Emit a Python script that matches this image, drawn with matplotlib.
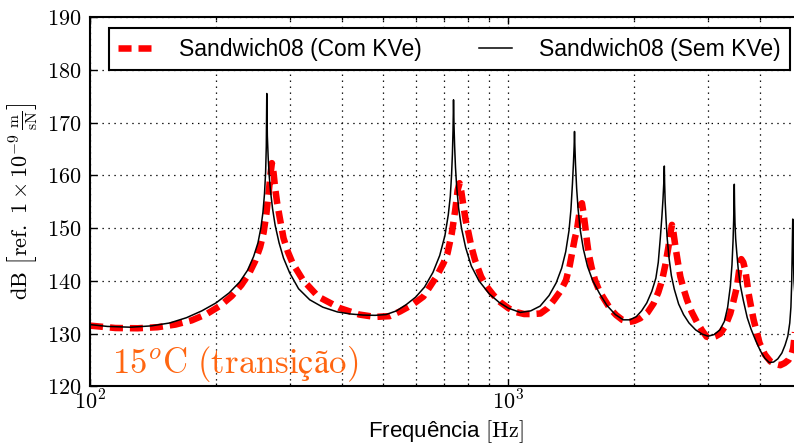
import matplotlib
matplotlib.use("Agg")
import numpy as np
import matplotlib.pyplot as plt
from matplotlib.ticker import FixedLocator, FuncFormatter, LogLocator, NullFormatter

# Mobilidade pontual da viga sanduíche (dB ref. 1e-9 m/(sN))
freq_sem = [100, 110, 125, 140, 155, 170, 185, 200, 215, 228, 238, 246, 252, 256, 259,
            261.2, 262.8, 263.8, 264.5, 265.3, 266.5, 268, 270, 273, 277, 283, 290, 300,
            315, 335, 360, 390, 420, 450, 480, 510, 540, 570, 600, 630, 660, 685, 705,
            718, 726, 731, 734.5, 737, 739, 741, 743.5, 747, 752, 760, 772, 790, 815,
            850, 900, 950, 1000, 1067, 1130, 1190, 1250, 1300, 1340, 1370, 1395, 1410,
            1422, 1430, 1435, 1438, 1441, 1446, 1455, 1467, 1485, 1510, 1545, 1590,
            1650, 1720, 1800, 1880, 1950, 2020, 2080, 2140, 2200, 2250, 2280, 2305,
            2325, 2340, 2350, 2357, 2361, 2368, 2380, 2395, 2420, 2450, 2490, 2550,
            2620, 2700, 2800, 2900, 3000, 3100, 3200, 3280, 3340, 3390, 3420, 3440,
            3452, 3459, 3464, 3469, 3477, 3490, 3510, 3540, 3580, 3640, 3720, 3800,
            3900, 4000, 4100, 4200, 4300, 4400, 4500, 4580, 4650, 4700, 4730, 4750,
            4762, 4770, 4778, 4790, 4810, 4860, 4950, 5000]
db_sem = [131.7, 131.35, 131.2, 131.45, 132.0, 133.0, 134.3, 135.8, 137.7, 139.8, 142.0,
          144.6, 147.2, 150.0, 153.0, 156.5, 160.5, 165.5, 175.5, 167.5, 163.5, 160.0,
          157.0, 153.7, 150.5, 147.2, 144.3, 141.5, 138.5, 136.4, 135.0, 134.1, 133.7,
          133.5, 133.45, 133.6, 134.3, 135.5, 136.9, 138.8, 141.6, 144.8, 148.6, 152.5,
          156.0, 160.0, 164.0, 168.5, 174.3, 169.5, 165.5, 161.5, 157.8, 153.8, 150.0,
          146.3, 142.8, 140.0, 137.5, 135.9, 134.8, 134.0, 134.3, 135.2, 137.2, 139.6,
          142.4, 145.5, 149.5, 153.5, 158.5, 162.5, 165.5, 168.3, 165.5, 162.0, 157.5,
          153.5, 149.5, 146.0, 142.7, 140.0, 137.6, 135.3, 133.6, 132.6, 132.6, 133.2,
          134.3, 135.8, 138.0, 140.5, 143.5, 148.0, 152.0, 155.5, 158.5, 161.75, 158.5,
          155.0, 151.5, 148.0, 144.2, 141.0, 138.4, 135.6, 133.6, 132.0, 130.7, 129.9,
          129.5, 129.8, 130.7, 132.3, 135.0, 139.0, 143.0, 147.5, 151.5, 155.0, 158.3,
          154.5, 151.0, 148.0, 145.5, 142.2, 139.2, 136.3, 133.0, 130.8, 128.6, 126.7,
          125.3, 124.5, 124.6, 125.2, 126.3, 127.8, 129.5, 132.0, 135.0, 139.5, 144.5,
          148.5, 151.7, 146.0, 140.0, 135.0, 131.0, 130.0]

freq_com = [100, 115, 130, 145, 160, 175, 190, 205, 218, 230, 240, 248, 255, 260, 264,
            267.5, 270, 272, 274.5, 277, 280, 284, 290, 297, 305, 323, 351, 396, 440,
            480, 520, 551, 590, 626, 673, 700, 715, 732, 746, 756, 764, 771, 781, 790,
            803, 815, 832, 860, 887, 920, 954, 1000, 1039, 1090, 1148, 1192, 1240,
            1286, 1330, 1372, 1400, 1418, 1440, 1457, 1475, 1490, 1498, 1510, 1526,
            1540, 1554, 1580, 1610, 1650, 1697, 1750, 1808, 1870, 1944, 2000, 2065,
            2150, 2222, 2280, 2328, 2370, 2412, 2435, 2458, 2480, 2505, 2540, 2574,
            2620, 2670, 2740, 2819, 2900, 2974, 3050, 3130, 3208, 3300, 3388, 3450,
            3515, 3550, 3580, 3600, 3640, 3680, 3715, 3747, 3800, 3853, 3915, 3980,
            4100, 4226, 4350, 4462, 4570, 4671, 4750, 4790, 4820, 4900, 5000]
db_com = [131.5, 131.05, 131.0, 131.2, 131.7, 132.5, 133.7, 135.3, 137.1, 139.2, 141.4,
          143.7, 146.4, 149.2, 152.8, 157.0, 160.2, 162.3, 160.5, 157.5, 154.8, 152.0,
          148.1, 145.5, 143.3, 140.1, 137.0, 134.8, 133.6, 133.15, 133.3, 134.2, 135.5,
          137.0, 140.8, 143.4, 145.2, 149.0, 153.4, 157.2, 158.5, 157.0, 154.0, 151.5,
          149.0, 146.5, 143.9, 140.8, 138.9, 137.3, 136.0, 134.8, 134.1, 133.7, 133.7,
          133.8, 134.8, 136.4, 138.0, 140.1, 142.8, 145.2, 148.0, 149.6, 152.5, 154.5,
          154.7, 153.0, 150.2, 147.5, 145.2, 142.5, 140.1, 138.0, 136.4, 134.7, 133.5,
          132.6, 132.2, 132.4, 132.9, 134.0, 135.7, 137.8, 140.1, 143.0, 146.5, 148.8,
          150.6, 149.0, 146.5, 143.5, 140.8, 138.5, 136.4, 134.1, 132.2, 130.6, 129.4,
          129.2, 129.5, 130.0, 131.5, 133.8, 136.2, 138.9, 141.5, 143.6, 144.1, 143.5,
          142.0, 139.8, 137.6, 135.0, 132.6, 130.4, 128.2, 126.0, 124.7, 124.2, 124.0,
          124.4, 125.0, 126.2, 127.2, 129.2, 134.0, 140.0]

label_com = "Sandwich08 (Com KVe)"
label_sem = "Sandwich08 (Sem KVe)"
y_ticks = [120, 130, 140, 150, 160, 170, 180, 190]
x_major = [100, 1000]

plt.rcParams.update({
    "font.family": ["Liberation Sans", "DejaVu Sans"],
    "mathtext.fontset": "cm",
    "lines.scale_dashes": False,
    "xtick.direction": "in",
    "ytick.direction": "in",
    "xtick.top": True,
    "ytick.right": True,
    "xtick.major.size": 5,
    "xtick.minor.size": 2.5,
    "ytick.major.size": 5,
    "xtick.major.width": 1.0,
    "xtick.minor.width": 0.9,
    "ytick.major.width": 1.0,
    "axes.linewidth": 1.5,
})

fig = plt.figure(figsize=(7.94, 4.48), dpi=100)
ax = fig.add_axes([90 / 794, (448 - 386.3) / 448, (801 - 90) / 794, (386.3 - 17) / 448])

ax.plot(freq_com, db_com, color="red", lw=4.7, dashes=(9.4, 5.0), label=label_com)
ax.plot(freq_sem, db_sem, color="black", lw=1.1, label=label_sem)
ax.set_xscale("log")
ax.set_xlim(100, 5000)
ax.set_ylim(120, 190)

grid_style = dict(color="k", linestyle=(0, (1.0, 3.3)), lw=0.9)
ax.grid(True, which="major", axis="both", **grid_style)
ax.grid(True, which="minor", axis="x", **grid_style)

ax.xaxis.set_major_locator(FixedLocator(x_major))
ax.xaxis.set_major_formatter(FuncFormatter(lambda v, p: r"$10^{%d}$" % round(np.log10(v))))
ax.xaxis.set_minor_locator(LogLocator(base=10, subs=np.arange(2, 10)))
ax.xaxis.set_minor_formatter(NullFormatter())
ax.yaxis.set_major_locator(FixedLocator(y_ticks))
ax.yaxis.set_major_formatter(FuncFormatter(lambda v, p: r"$%d$" % v))
ax.tick_params(axis="both", which="major", labelsize=16)
ax.tick_params(axis="y", pad=6)
ax.tick_params(axis="x", pad=3)

ax.set_xlabel(r"Frequência $[\mathrm{Hz}]$", fontsize=16, labelpad=3)
ax.set_ylabel(r"$\mathrm{dB}\ \left[\mathrm{ref.}\ 1\times10^{-9}\,\frac{\mathrm{m}}{\mathrm{sN}}\right]$",
              fontsize=16, labelpad=6)

leg = ax.legend(loc="upper center", bbox_to_anchor=(0.5 + 4 / 711, 1.0), ncol=2,
                fontsize=16.5, fancybox=False, framealpha=1, edgecolor="k",
                handlelength=1.45, handletextpad=1.2, columnspacing=2.5,
                borderpad=0.4, borderaxespad=0.5)
leg.get_frame().set_linewidth(1.5)

ax.text(0.0305, 0.037, r"$15^o\mathrm{C}\ (\mathrm{transição})$", transform=ax.transAxes,
        fontsize=25, color="#ff6611", va="baseline")

fig.savefig("out.png", dpi=100)
